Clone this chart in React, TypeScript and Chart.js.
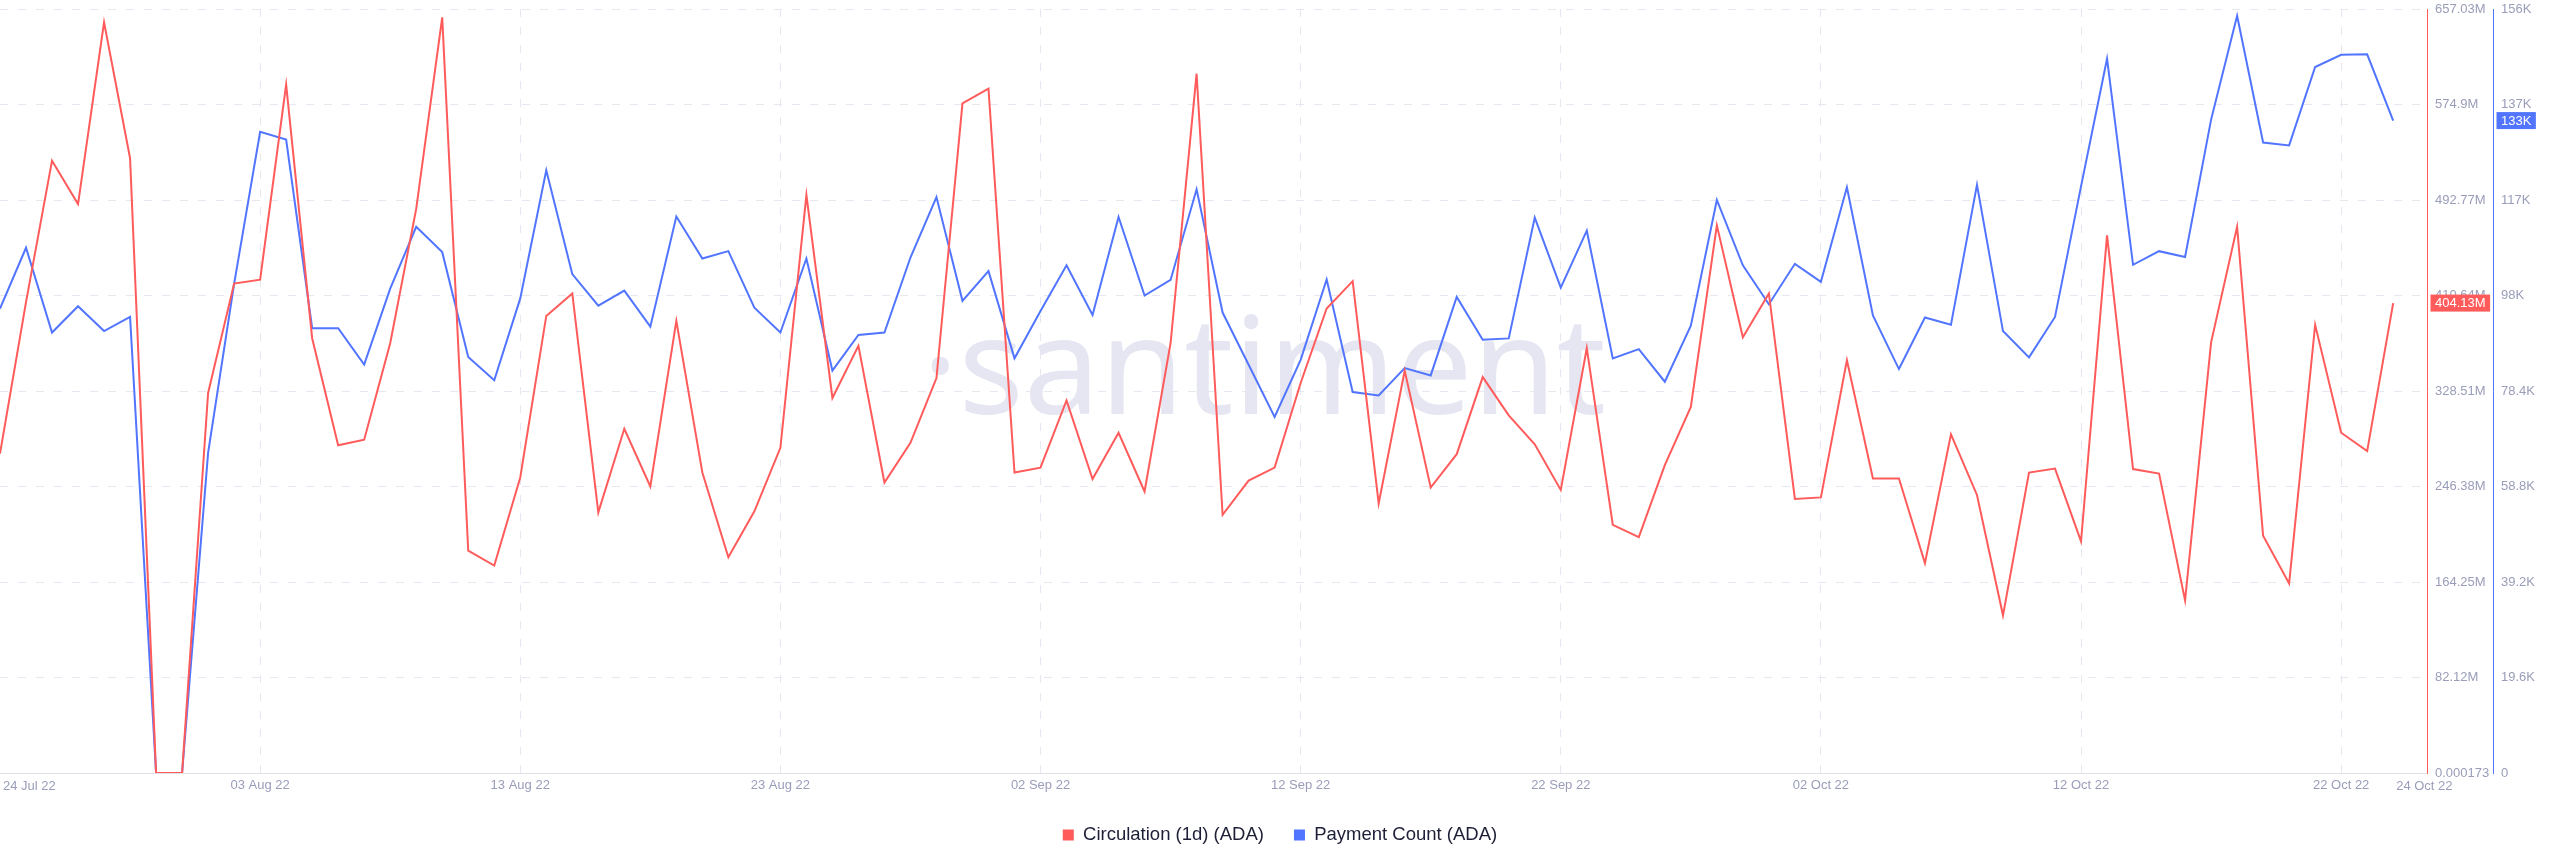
import React, { useEffect, useRef } from 'react';
import { Chart, registerables } from 'chart.js';

Chart.register(...registerables);

// Circulation (1d) (ADA), in millions, one value per day from 24 Jul 22 to 24 Oct 22
const circulationM = [
  274.6, 405.0, 526.6, 489.3, 645.5, 528.7, 0, 0, 326.8, 420.9,
  424.3, 592.0, 373.9, 281.9, 286.6, 369.6, 485.1, 649.8, 191.2, 178.4,
  254.1, 393.1, 412.4, 224.1, 296.0, 246.4, 388.8, 258.4, 185.6, 225.0,
  279.7, 497.0, 322.5, 367.4, 249.8, 284.0, 339.6, 575.8, 588.6, 258.4,
  262.6, 320.4, 252.8, 292.6, 242.1, 369.6, 601.4, 222.0, 251.5, 262.6,
  335.4, 399.5, 423.0, 231.8, 346.1, 245.5, 274.2, 340.5, 307.6, 282.7,
  243.4, 365.3, 213.4, 202.8, 264.8, 314.8, 471.0, 374.7, 412.4, 235.7,
  237.0, 355.0, 253.2, 253.2, 180.5, 291.3, 239.1, 135.6, 258.4, 261.8,
  199.3, 462.4, 261.4, 257.5, 148.4, 370.4, 469.7, 204.0, 163.0, 385.4,
  292.6, 276.8, 404.13,
];

// Payment Count (ADA), in thousands
const paymentCountK = [
  95.3, 107.8, 90.4, 95.8, 90.7, 93.6, 0, 0, 65.7, 100.4,
  131.6, 130.0, 91.3, 91.3, 83.8, 99.4, 112.1, 106.9, 85.4, 80.6,
  97.4, 123.7, 102.4, 95.9, 99.0, 91.6, 114.2, 105.6, 107.1, 95.5,
  90.4, 105.6, 82.6, 89.9, 90.4, 105.8, 118.2, 96.9, 103.0, 85.1,
  94.8, 104.2, 94.0, 114.1, 98.0, 101.2, 119.8, 94.5, 83.8, 73.1,
  84.8, 101.3, 78.2, 77.5, 83.1, 81.6, 97.7, 88.9, 89.2, 114.0,
  99.6, 111.3, 85.1, 87.0, 80.3, 91.8, 117.6, 104.2, 96.2, 104.5,
  100.8, 120.2, 93.9, 82.9, 93.5, 92.0, 120.7, 90.7, 85.3, 93.6,
  120.4, 146.6, 104.3, 107.1, 105.9, 134.1, 155.4, 129.4, 128.8, 144.9,
  147.4, 147.5, 133.9,
];

const xTickDays = [10, 20, 30, 40, 50, 60, 70, 80, 90];
const xTickLabels = [
  '03 Aug 22', '13 Aug 22', '23 Aug 22', '02 Sep 22', '12 Sep 22',
  '22 Sep 22', '02 Oct 22', '12 Oct 22', '22 Oct 22',
];
const xEdgeDays = [0, 92];
const xEdgeLabels = ['24 Jul 22', '24 Oct 22'];

const redTickLabels = [
  '0.000173', '82.12M', '164.25M', '246.38M', '328.51M',
  '410.64M', '492.77M', '574.9M', '657.03M',
];
const blueTickLabels = ['0', '19.6K', '39.2K', '58.8K', '78.4K', '98K', '117K', '137K', '156K'];

const redAxisMax = 657.03;
const blueAxisMax = 156.8;
const xAxisMax = 93.3;

const seriesNames = ['Circulation (1d) (ADA)', 'Payment Count (ADA)'];
const RED = '#ff5b5b';
const BLUE = '#5275ff';
const TICK_COLOR = '#9a9db9';
const GRID_COLOR = '#e6e7f0';
const FONT_FAMILY = '"Liberation Sans", Arial, Helvetica, sans-serif';
const watermarkText = '\u00b7santiment';

const watermarkPlugin = {
  id: 'watermark',
  beforeDatasetsDraw(chart: any) {
    const ctx = chart.ctx;
    ctx.save();
    const size = 100;
    ctx.font = `400 ${size}px "Noto Sans", sans-serif`;
    const w = ctx.measureText(watermarkText).width;
    const target = 684;
    const fitted = (size * target) / w;
    ctx.font = `400 ${fitted}px "Noto Sans", sans-serif`;
    ctx.fillStyle = '#e5e6f1';
    ctx.textAlign = 'left';
    ctx.textBaseline = 'alphabetic';
    ctx.fillText(watermarkText, 922, 414);
    ctx.restore();
  },
};

const badgePlugin = {
  id: 'lastValueBadges',
  afterDraw(chart: any) {
    const ctx = chart.ctx;
    const items = [
      {
        axis: 'y',
        value: circulationM[circulationM.length - 1],
        text: circulationM[circulationM.length - 1].toFixed(2) + 'M',
        color: RED,
      },
      {
        axis: 'y1',
        value: paymentCountK[paymentCountK.length - 1],
        text: Math.floor(paymentCountK[paymentCountK.length - 1]) + 'K',
        color: BLUE,
      },
    ];
    ctx.save();
    ctx.font = `13px ${FONT_FAMILY}`;
    items.forEach((it) => {
      const scale = chart.scales[it.axis];
      const y = scale.getPixelForValue(it.value);
      const x = scale.left + 8;
      const tw = ctx.measureText(it.text).width;
      ctx.fillStyle = it.color;
      ctx.fillRect(x - 4.5, y - 8.5, tw + 9, 17);
      ctx.fillStyle = '#ffffff';
      ctx.textAlign = 'left';
      ctx.textBaseline = 'middle';
      ctx.fillText(it.text, x, y + 0.5);
    });
    ctx.restore();
  },
};

export default function App() {
  const canvasRef = useRef<HTMLCanvasElement | null>(null);

  useEffect(() => {
    const canvas = canvasRef.current;
    if (!canvas) return;
    const tickFont = { family: FONT_FAMILY, size: 13 };

    const chart = new Chart(canvas, {
      type: 'line',
      data: {
        datasets: [
          {
            label: seriesNames[0],
            data: circulationM.map((v, i) => ({ x: i, y: v })),
            borderColor: RED,
            backgroundColor: RED,
            borderWidth: 2,
            pointRadius: 0,
            tension: 0,
            yAxisID: 'y',
            xAxisID: 'x',
          },
          {
            label: seriesNames[1],
            data: paymentCountK.map((v, i) => ({ x: i, y: v })),
            borderColor: BLUE,
            backgroundColor: BLUE,
            borderWidth: 2,
            pointRadius: 0,
            tension: 0,
            yAxisID: 'y1',
            xAxisID: 'x',
          },
        ],
      },
      options: {
        animation: false,
        responsive: false,
        maintainAspectRatio: false,
        devicePixelRatio: 1,
        layout: { padding: { top: 9, bottom: 12.75, left: 0, right: 0 } },
        plugins: {
          tooltip: { enabled: false },
          legend: {
            position: 'bottom',
            labels: {
              font: { family: FONT_FAMILY, size: 18.5 },
              color: '#1d1f36',
              boxWidth: 11,
              boxHeight: 11,
              padding: 30,
              generateLabels: (c: any) => {
                const items = (Chart.defaults as any).plugins.legend.labels.generateLabels(c);
                items.forEach((it: any) => {
                  it.lineWidth = 0;
                  it.strokeStyle = 'rgba(0,0,0,0)';
                });
                return items;
              },
            },
          },
        },
        scales: {
          x: {
            type: 'linear',
            position: 'bottom',
            weight: 0,
            min: 0,
            max: xAxisMax,
            afterBuildTicks: (s: any) => {
              s.ticks = xTickDays.map((v) => ({ value: v }));
            },
            afterFit: (s: any) => {
              s.height = 22.75;
              s.paddingLeft = 0;
              s.paddingRight = 0;
            },
            ticks: {
              font: tickFont,
              color: TICK_COLOR,
              padding: 5,
              maxRotation: 0,
              autoSkip: false,
              callback: (_v: any, i: number) => xTickLabels[i],
            },
            grid: { color: GRID_COLOR, drawTicks: false, lineWidth: 1 },
            border: { display: true, color: '#dfe1ea', dash: [8, 10] },
          },
          x2: {
            type: 'linear',
            position: 'bottom',
            weight: 1,
            min: 0,
            max: xAxisMax,
            afterBuildTicks: (s: any) => {
              s.ticks = xEdgeDays.map((v) => ({ value: v }));
            },
            afterFit: (s: any) => {
              s.height = 0;
              s.paddingLeft = 0;
              s.paddingRight = 0;
            },
            ticks: {
              mirror: true,
              align: 'start',
              padding: 1.9,
              labelOffset: 3,
              font: tickFont,
              color: TICK_COLOR,
              maxRotation: 0,
              autoSkip: false,
              callback: (_v: any, i: number) => xEdgeLabels[i],
            },
            grid: { display: false, drawTicks: false },
            border: { display: false },
          },
          y: {
            type: 'linear',
            position: 'right',
            weight: 1,
            min: 0,
            max: redAxisMax,
            afterBuildTicks: (s: any) => {
              s.ticks = redTickLabels.map((_l, i) => ({ value: (i * redAxisMax) / (redTickLabels.length - 1) }));
            },
            afterFit: (s: any) => {
              s.width = 66;
              s.paddingTop = 0;
              s.paddingBottom = 0;
            },
            ticks: {
              font: tickFont,
              color: TICK_COLOR,
              padding: 8,
              autoSkip: false,
              callback: (_v: any, i: number) => redTickLabels[i],
            },
            grid: { color: GRID_COLOR, drawTicks: false, lineWidth: 1 },
            border: { display: true, color: RED, width: 1, dash: [8, 10] },
          },
          y1: {
            type: 'linear',
            position: 'right',
            weight: 2,
            min: 0,
            max: blueAxisMax,
            afterBuildTicks: (s: any) => {
              s.ticks = blueTickLabels.map((_l, i) => ({ value: (i * blueAxisMax) / (blueTickLabels.length - 1) }));
            },
            afterFit: (s: any) => {
              s.width = 67;
              s.paddingTop = 0;
              s.paddingBottom = 0;
            },
            ticks: {
              font: tickFont,
              color: TICK_COLOR,
              padding: 8,
              autoSkip: false,
              callback: (_v: any, i: number) => blueTickLabels[i],
            },
            grid: { display: false, drawTicks: false },
            border: { display: true, color: BLUE, width: 1 },
          },
        },
      } as any,
      plugins: [watermarkPlugin, badgePlugin],
    });

    return () => {
      chart.destroy();
    };
  }, []);

  return (
    <div style={{ position: 'fixed', left: 0, top: 0, width: 2560, height: 867, background: '#ffffff' }}>
      <canvas ref={canvasRef} width={2560} height={867} style={{ display: 'block', width: 2560, height: 867 }} />
    </div>
  );
}
